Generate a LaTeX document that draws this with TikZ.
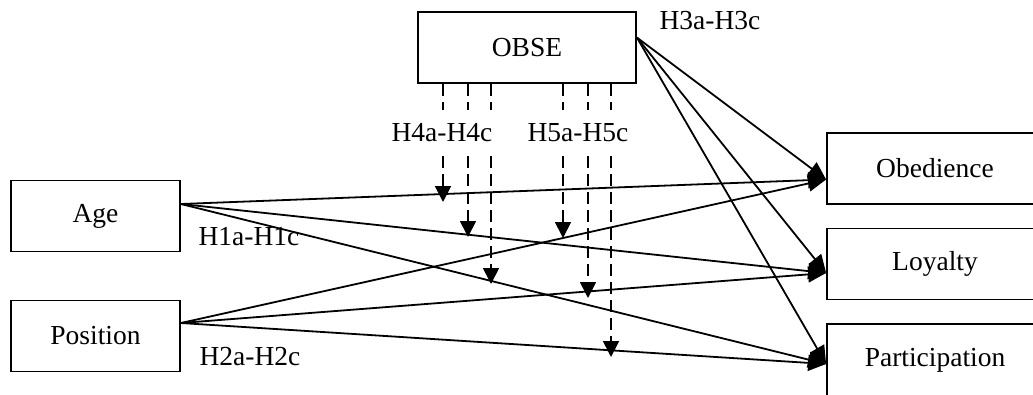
\documentclass[tikz,border=0pt]{standalone}
\usepackage{fontspec}
\setmainfont{Liberation Serif}
\usetikzlibrary{arrows.meta,calc}
\begin{document}
\begin{tikzpicture}[x=1pt,y=-1pt,
  every node/.style={font=\fontsize{27.5}{33}\selectfont},
  box/.style={draw,line width=1.8pt,rectangle,minimum height=71pt,inner sep=0pt},
  lbl/.style={inner sep=1pt},
  arr/.style={line width=1.8pt,-{Triangle[length=18pt,width=16pt]}},
  darr/.style={line width=1.8pt,dash pattern=on 12pt off 6pt,-{Triangle[length=16pt,width=16pt]}}]
\useasboundingbox (0,0) rectangle (1033,394);
\node[box,minimum width=218pt] (OBSE) at (527,47.5) {OBSE};
\node[box,minimum width=169pt] (Age) at (95.5,216) {Age};
\node[box,minimum width=169pt] (Position) at (95.5,336) {Position};
\node[box,minimum width=216pt] (Obedience) at (935,168.5) {Obedience};
\node[box,minimum width=216pt] (Loyalty) at (935,264) {Loyalty};
\node[box,minimum width=216pt,minimum height=72pt] (Participation) at (935,360) {Participation};
% labels under the lines
\node[lbl] (h3) at (710,21) {H3a-H3c};
\node[lbl] (h1) at (249,237) {H1a-H1c};
\node[lbl] (h2) at (250,357) {H2a-H2c};
% endpoints
\coordinate (ageout) at ($(Age.east)+(0,-12)$);
\coordinate (posout) at ($(Position.east)+(0,-13)$);
\coordinate (obseout) at ($(OBSE.east)+(0,-10)$);
\coordinate (obin) at ($(Obedience.west)+(0,11)$);
\coordinate (loin) at ($(Loyalty.west)+(0,9)$);
\coordinate (pain) at ($(Participation.west)+(0,4)$);
% solid arrows
\foreach \s in {ageout,posout,obseout}
  \foreach \t in {obin,loin,pain}
    \draw[arr] (\s) -- (\t);
% dashed arrows
\coordinate (t1) at (443,202);
\coordinate (t2) at (468,237);
\coordinate (t3) at (491,284);
\coordinate (t4) at (563,238);
\coordinate (t5) at (588,298);
\coordinate (t6) at (611,357);
\foreach \i/\dx in {1/-84,2/-59,3/-36,4/36,5/61,6/84}
  \draw[darr] ($(OBSE.south)+(\dx,0)$) -- (t\i);
% labels over the dashed lines
\node[lbl,fill=white,minimum height=46pt] (h4) at (442,133) {H4a-H4c};
\node[lbl,fill=white,minimum height=46pt] (h5) at (578,133) {H5a-H5c};
\end{tikzpicture}
\end{document}
